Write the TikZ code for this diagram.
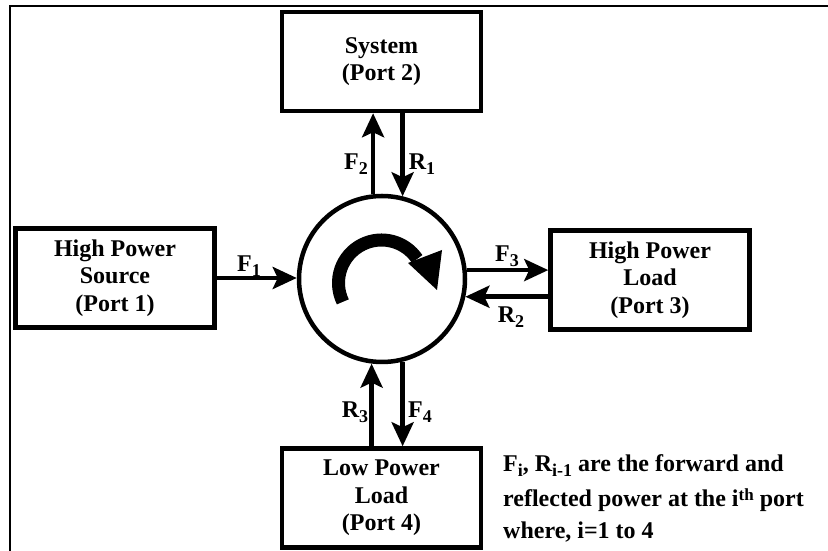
\documentclass[tikz,border=0pt]{standalone}
\usepackage{fontspec}
\setmainfont{Liberation Serif}
\usepackage{tikz}
\usetikzlibrary{arrows.meta,positioning,calc}
\newcommand{\portsub}[1]{\raisebox{-5pt}{\fontsize{18}{18}\selectfont #1}}
\newcommand{\portsup}[1]{\raisebox{6pt}{\fontsize{17}{17}\selectfont #1}}

\begin{document}
\begin{tikzpicture}[x=1pt, y=1pt, >={Stealth[length=24pt,width=22pt,inset=5pt]},
  font=\fontsize{24}{27.5}\selectfont\bfseries,
  port/.style={draw, line width=4.5pt, minimum width=199pt, minimum height=99pt, inner sep=0pt, align=center},
  flow/.style={->, line width=4.5pt}]

\useasboundingbox (0,0) rectangle (828,551);

% ==========================================
% Frame
% ==========================================
\draw[line width=2.5pt] (10,0) -- (10,545) -- (828,545);

% ==========================================
% Circulator and its four ports
% ==========================================
\node[circle, draw, line width=4.5pt, minimum size=166pt, inner sep=0pt] (circ) at (382,272) {};

% Rotation sense inside the circulator
\draw[line width=13pt] (381.5,268) ++(206:43) arc[start angle=206, end angle=34, radius=43];
\fill (408,288) -- (442,301) -- (437,261) -- cycle;

\node[port] (sys) at (381.5,489.5) {System\\(Port 2)};
\node[port] (src) at (115,273) {High Power\\Source\\(Port 1)};
\node[port] (hpl) at (650,271) {High Power\\Load\\(Port 3)};
\node[port] (lpl) at (381.5,53) {Low Power\\Load\\(Port 4)};

% ==========================================
% Forward and reflected power
% ==========================================
\draw[flow] (src.east) -- (src.east -| circ.west);
\draw[flow] (circ.96) -- (circ.96 |- sys.south);
\draw[flow] (circ.76 |- sys.south) -- (circ.76);
\draw[flow] (circ.6) -- (circ.6 -| hpl.west);
\draw[flow] (circ.348 -| hpl.west) -- (circ.348);
\draw[flow] (circ.263 |- lpl.north) -- (circ.263);
\draw[flow] (circ.284) -- (circ.284 |- lpl.north);

\node (lF1) at (249,285) {F\portsub{1}};
\node (lF2) at (356,387) {F\portsub{2}};
\node (lR1) at (422,387) {R\portsub{1}};
\node (lF3) at (507,295) {F\portsub{3}};
\node (lR2) at (511,234) {R\portsub{2}};
\node (lR3) at (355,139) {R\portsub{3}};
\node (lF4) at (420,139) {F\portsub{4}};

% Legend
\node[anchor=north west, inner sep=0pt, align=left, font=\fontsize{24}{32}\selectfont\bfseries] (note) at (503,96.5)
  {F\portsub{i}, R\portsub{i-1} are the forward and\\[3pt]reflected power at the i\portsup{th} port\\where, i=1 to 4};

\end{tikzpicture}
\end{document}
